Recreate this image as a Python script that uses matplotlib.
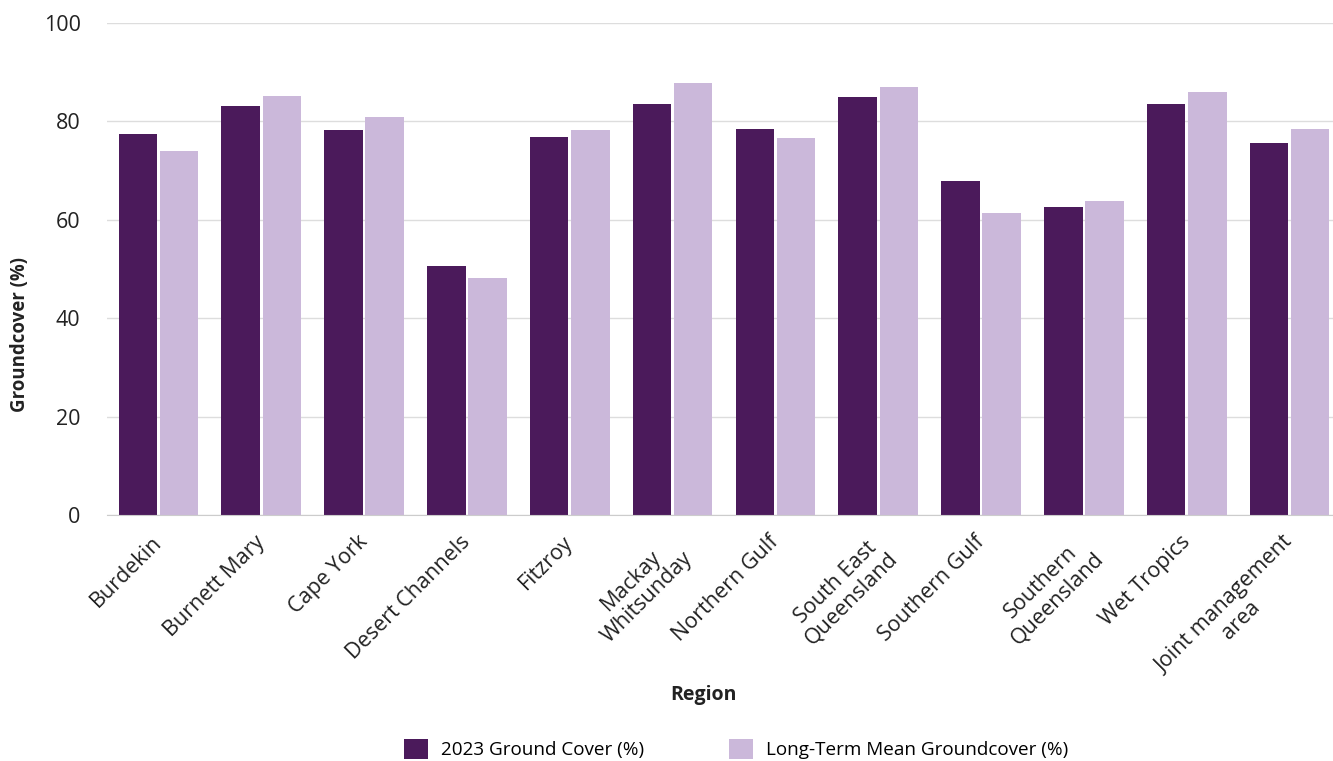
import matplotlib
matplotlib.use("Agg")
import matplotlib.pyplot as plt
import matplotlib.transforms as mtransforms
import numpy as np

plt.rcParams['font.family'] = ['Open Sans', 'DejaVu Sans']

regions = ["Burdekin", "Burnett Mary", "Cape York", "Desert Channels", "Fitzroy",
           "Mackay\nWhitsunday", "Northern Gulf", "South East\nQueensland",
           "Southern Gulf", "Southern\nQueensland", "Wet Tropics",
           "Joint management\narea"]
cover_2023 = [77.4, 83.1, 78.3, 50.6, 76.8, 83.5, 78.5, 85.0, 67.9, 62.6, 83.5, 75.6]
long_term_mean = [74.0, 85.2, 80.9, 48.2, 78.3, 87.8, 76.6, 87.0, 61.4, 63.8, 86.0, 78.5]
series_names = ["2023 Ground Cover (%)", "Long-Term Mean Groundcover (%)"]
yticks = [0, 20, 40, 60, 80, 100]

dark = "#4b1a5b"
light = "#cbb8da"

fig = plt.figure(figsize=(13.33, 7.61), dpi=100)
ax = fig.add_axes([107/1333, 1-515/761, (1341-107)/1333, (515-23)/761])

x = np.arange(len(regions))
w = 0.375
ax.bar(x - 0.2, cover_2023, width=w, color=dark, label=series_names[0], zorder=3)
ax.bar(x + 0.2, long_term_mean, width=w, color=light, label=series_names[1], zorder=3)

ax.set_xlim(-0.5, len(regions) - 0.5)
ax.set_ylim(0, 100)
ax.set_yticks(yticks)
ax.set_yticklabels([str(t) for t in yticks], fontsize=15.5, color="#222222")
ax.yaxis.grid(True, color="#dddddd", linewidth=1, zorder=0)
ax.tick_params(axis='y', length=0, pad=19)
ax.tick_params(axis='x', length=0, pad=12)
for s in ["left", "right", "top"]:
    ax.spines[s].set_visible(False)
ax.spines["bottom"].set_color("#cccccc")
ax.spines["bottom"].set_zorder(4)

ax.set_xticks(x)
ax.set_xticklabels(regions, rotation=45, ha='right', rotation_mode='anchor',
                   multialignment='center', fontsize=15.5, color="#222222",
                   linespacing=1.1)
offset = mtransforms.ScaledTranslation(-7/100, 0, fig.dpi_scale_trans)
for lbl in ax.get_xticklabels():
    lbl.set_transform(lbl.get_transform() + offset)

fig.text(703/1333, 1-695/761, "Region", ha='center', va='center',
         fontsize=14, fontweight='bold', color="#222222")
fig.text(20/1333, 1-334/761, "Groundcover (%)", ha='center', va='center',
         rotation=90, fontsize=13.4, fontweight='bold', color="#222222")

fig.legend(loc='center', bbox_to_anchor=(736/1333, 1-749/761), ncol=2,
           frameon=False, fontsize=13.6, handlelength=1.25, handleheight=1.25,
           columnspacing=4.5, handletextpad=0.7)

fig.savefig("out.png", dpi=100)
